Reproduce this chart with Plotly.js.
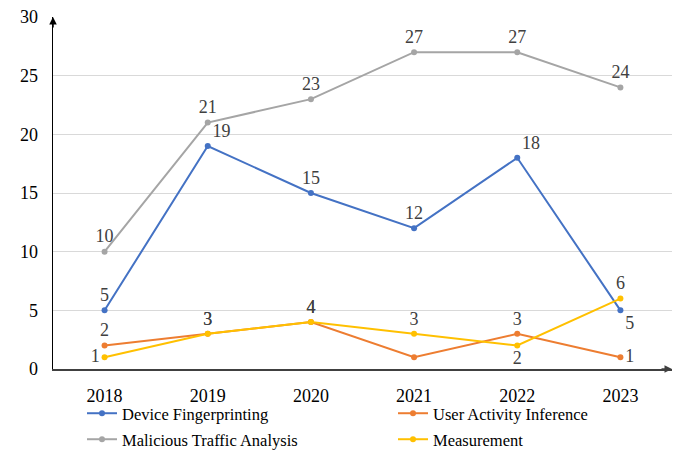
<!DOCTYPE html>
<html>
<head>
<meta charset="utf-8">
<script src="https://cdn.plot.ly/plotly-3.0.1.min.js"></script>
<style>html,body{margin:0;padding:0;background:#fff;}#chart{width:691px;height:452px;}</style>
</head>
<body>
<div id="chart"></div>
<script>
const years = ['2018', '2019', '2020', '2021', '2022', '2023'];
const deviceFingerprinting = [5, 19, 15, 12, 18, 5];
const userActivityInference = [2, 3, 4, 1, 3, 1];
const maliciousTrafficAnalysis = [10, 21, 23, 27, 27, 24];
const measurement = [1, 3, 4, 3, 2, 6];
const seriesNames = ['Device Fingerprinting', 'User Activity Inference', 'Malicious Traffic Analysis', 'Measurement'];
const yTicks = [0, 5, 10, 15, 20, 25, 30];

const FONT = 'Liberation Serif, Times New Roman, serif';
const colors = ['#4472C4', '#ED7D31', '#A5A5A5', '#FFC000'];
const positions = [
  ['top center', 'top right', 'top center', 'top center', 'top right', 'bottom right'],
  ['top center', 'top center', 'top center', 'middle right', 'top center', 'middle right'],
  ['top center', 'top center', 'top center', 'top center', 'top center', 'top center'],
  ['middle left', 'top center', 'top center', 'top center', 'bottom center', 'top center']
];
const legendIds = ['legend', 'legend2', 'legend3', 'legend4'];
const allData = [deviceFingerprinting, userActivityInference, maliciousTrafficAnalysis, measurement];

const traces = allData.map((vals, i) => {
  const txt = vals.map(String);
  if (i === 1) txt[3] = ''; // shown via annotation with leader line
  return {
    type: 'scatter', mode: 'lines+markers+text',
    name: seriesNames[i], x: years, y: vals,
    legend: legendIds[i],
    text: txt, textposition: positions[i],
    textfont: {family: FONT, size: 18, color: '#404040'},
    line: {color: colors[i], width: 2},
    marker: {color: colors[i], size: 6},
    cliponaxis: false
  };
});

function legendBox(xpx, ypx) {
  return {
    orientation: 'h', xref: 'container', yref: 'container',
    x: xpx / 691, xanchor: 'left', y: 1 - ypx / 452, yanchor: 'top',
    font: {family: FONT, size: 16.5, color: '#000'},
    itemwidth: 30,
    bgcolor: 'rgba(0,0,0,0)'
  };
}

const layout = {
  width: 691, height: 452,
  margin: {l: 53, r: 19, t: 17, b: 83},
  paper_bgcolor: '#fff', plot_bgcolor: '#fff',
  font: {family: FONT, size: 18, color: '#000'},
  showlegend: true,
  legend: legendBox(82, 396),
  legend2: legendBox(393, 396),
  legend3: legendBox(82, 422),
  legend4: legendBox(393, 422),
  xaxis: {
    type: 'category', range: [-0.5, 5.5],
    showgrid: false, zeroline: false,
    showline: true, linecolor: '#404040', linewidth: 1.5,
    ticks: '', ticklabelstandoff: 10,
    tickfont: {family: FONT, size: 18, color: '#000'}
  },
  yaxis: {
    range: [0, 30], tickvals: yTicks, ticktext: yTicks.map(String),
    showgrid: true, gridcolor: '#D9D9D9', gridwidth: 1,
    zeroline: false, showline: true, linecolor: '#000', linewidth: 1.5,
    ticks: '', ticklabelstandoff: 10,
    tickfont: {family: FONT, size: 18, color: '#000'}
  },
  annotations: [
    {xref: 'paper', yref: 'paper', x: 0, y: 1, ax: 0, ay: 12, text: '', showarrow: true,
     arrowhead: 2, arrowsize: 1, arrowwidth: 1.5, arrowcolor: '#000'},
    {xref: 'paper', yref: 'paper', x: 1, y: 0, ax: -12, ay: 0, text: '', showarrow: true,
     arrowhead: 2, arrowsize: 1, arrowwidth: 1.5, arrowcolor: '#404040'},
    {xref: 'x', yref: 'y', x: years[3], y: userActivityInference[3], ax: 25, ay: 4,
     text: String(userActivityInference[3]), showarrow: true, arrowhead: 0, arrowwidth: 1,
     arrowcolor: '#A5A5A5', standoff: 3, font: {family: FONT, size: 18, color: '#404040'}}
  ]
};

Plotly.newPlot('chart', traces, layout, {displayModeBar: false, staticPlot: true});
</script>
</body>
</html>
